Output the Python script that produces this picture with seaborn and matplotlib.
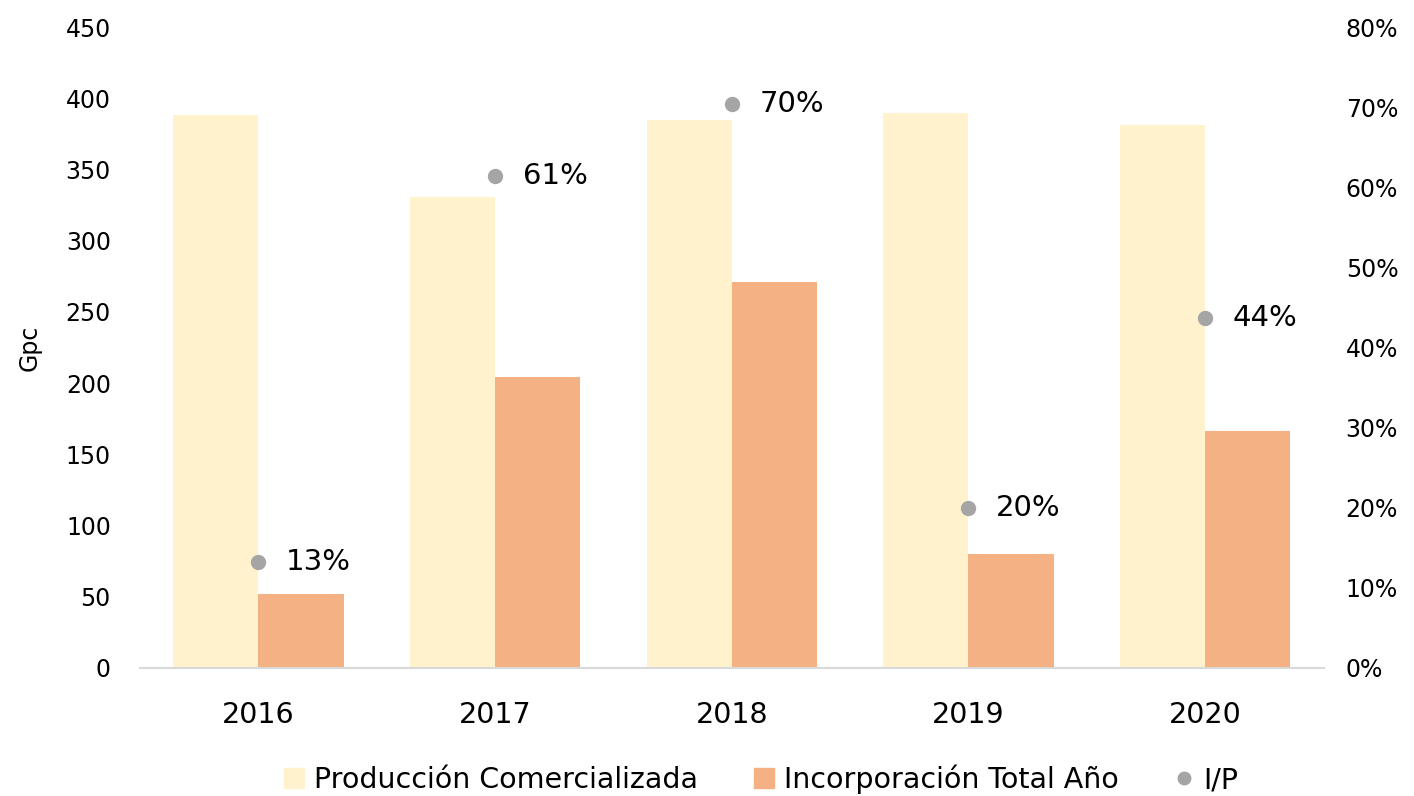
import pandas as pd
import matplotlib.pyplot as plt
import matplotlib.ticker as mticker
import seaborn as sns

years = ["2016", "2017", "2018", "2019", "2020"]
produccion = [388, 331, 385, 390, 381]
incorporacion = [52, 204, 271, 80, 166]
ip_ratio = [13.2, 61.4, 70.4, 20.0, 43.7]
ip_labels = ["13%", "61%", "70%", "20%", "44%"]

serie_prod = "Producción Comercializada"
serie_inc = "Incorporación Total Año"

df = pd.DataFrame({
    "year": years * 2,
    "value": produccion + incorporacion,
    "serie": [serie_prod] * len(years) + [serie_inc] * len(years),
})

sns.set_style("white")
plt.rcParams["font.family"] = ["DejaVu Sans"]
plt.rcParams["text.color"] = "black"
plt.rcParams["axes.labelcolor"] = "black"
plt.rcParams["xtick.color"] = "black"
plt.rcParams["ytick.color"] = "black"

fig = plt.figure(figsize=(14.14, 7.96), dpi=100)
ax = fig.add_axes([0.099, 0.161, 0.837, 0.805])

sns.barplot(data=df, x="year", y="value", hue="serie", order=years,
            hue_order=[serie_prod, serie_inc],
            palette=["#FFF2CC", "#F4B183"], width=0.72, saturation=1,
            linewidth=0, ax=ax, legend=False)

ax.set_xlim(-0.5, 4.5)
ax.set_ylim(0, 450)
ax.set_yticks(range(0, 451, 50))
ax.set_xlabel("")
ax.set_ylabel("Gpc", fontsize=17)
ax.yaxis.set_label_coords(-0.083, 0.5)
ax.tick_params(axis="y", labelsize=17, length=0, pad=21)
ax.tick_params(axis="x", labelsize=20.5, length=0, pad=24)
for s in ["top", "right", "left"]:
    ax.spines[s].set_visible(False)
ax.spines["bottom"].set_color("#D9D9D9")
ax.spines["bottom"].set_linewidth(1.5)

ax2 = ax.twinx()
sns.pointplot(x=years, y=ip_ratio, order=years, color="#A5A5A5",
              linestyle="none", markers="o", markersize=9, ax=ax2,
              errorbar=None)
ax2.set_xlim(-0.5, 4.5)
ax2.set_ylim(0, 80)
ax2.set_yticks(range(0, 81, 10))
ax2.yaxis.set_major_formatter(mticker.FuncFormatter(lambda v, p: f"{int(v)}%"))
ax2.tick_params(axis="y", labelsize=17, length=0, pad=16)
for s in ["top", "right", "left", "bottom"]:
    ax2.spines[s].set_visible(False)

for i, (v, lab) in enumerate(zip(ip_ratio, ip_labels)):
    ax2.annotate(lab, (i, v), xytext=(20, 0), textcoords="offset points",
                 fontsize=21, va="center", ha="left")

handles = [
    plt.Line2D([], [], marker="s", linestyle="none", markersize=15,
               color="#FFF2CC", label=serie_prod),
    plt.Line2D([], [], marker="s", linestyle="none", markersize=15,
               color="#F4B183", label=serie_inc),
    plt.Line2D([], [], marker="o", linestyle="none", markersize=9,
               color="#A5A5A5", label="I/P"),
]
fig.legend(handles=handles, loc="lower center", bbox_to_anchor=(0.535, -0.03),
           ncol=3, frameon=False, fontsize=20.5, handletextpad=0.0,
           columnspacing=1.6, handlelength=1.4)

fig.savefig("out.png", dpi=100)
